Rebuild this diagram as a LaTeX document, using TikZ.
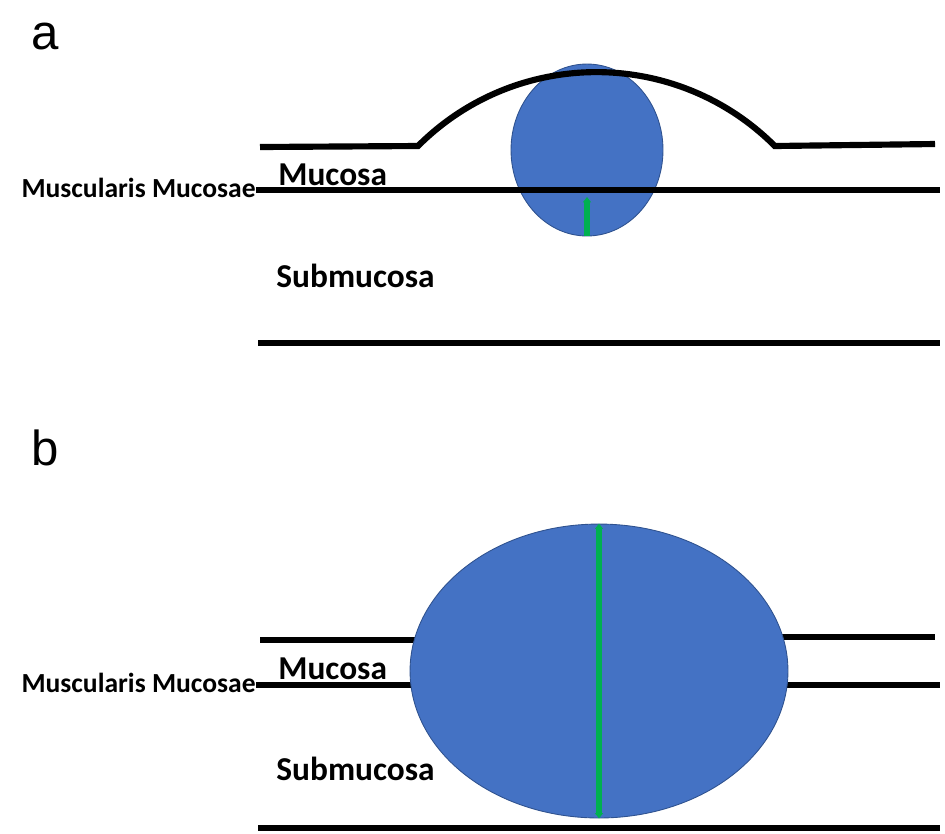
\documentclass[tikz,border=0pt]{standalone}
\usepackage{fontspec}
\usetikzlibrary{arrows.meta,positioning,shapes.geometric}
\newfontfamily\layerfont{Carlito}
\newfontfamily\panelfont{Liberation Sans}
\definecolor{polypblue}{RGB}{68,114,196}
\definecolor{polypedge}{RGB}{47,82,143}
\definecolor{depthgreen}{RGB}{0,176,80}

\begin{document}
\begin{tikzpicture}[x=0.02cm,y=-0.02cm,
      layer/.style={line width=3.5pt},
      polyp/.style={draw=polypedge,line width=0.5pt,fill=polypblue,ellipse,inner sep=0pt},
      depth/.style={draw=depthgreen,line width=3pt},
      lbl/.style={font=\layerfont\bfseries\fontsize{19}{19}\selectfont,inner sep=0pt},
      mmlbl/.style={font=\layerfont\bfseries\fontsize{15.7}{15.7}\selectfont,inner sep=0pt},
      panel/.style={font=\panelfont\fontsize{28}{28}\selectfont,inner sep=0pt}]
    \useasboundingbox (0,0) rectangle (945,833);
    % panel a
    \node[panel,anchor=base west] (pa) at (31,49) {a};
    \node[polyp,minimum width=3.04cm,minimum height=3.44cm] (pola) at (587,150) {};
    \coordinate (tipa) at (587,197);
    \draw[depth,-{Triangle[length=3pt,width=4.5pt]}] (pola.south) -- (tipa);
    \coordinate (a1) at (260,147);
    \coordinate (a2) at (418,146);
    \coordinate (a3) at (935,144);
    \draw[layer] (a1) -- (a2) arc[start angle=225,end angle=315,radius=252.3] -- (a3);
    \node[mmlbl,anchor=base east] (mma) at (256,197) {Muscularis Mucosae};
    \coordinate (mmaend) at (940,190);
    \draw[layer] (mma.east |- mmaend) -- (mmaend);
    \coordinate (basea0) at (258,343);
    \coordinate (basea1) at (940,343);
    \draw[layer] (basea0) -- (basea1);
    % layer labels a
    \node[lbl,anchor=base west] (muca) at (278,185) {Mucosa};
    \node[lbl,anchor=base west] (suba) at (276,287) {Submucosa};
    % panel b
    \node[panel,anchor=base west] (pb) at (31,465) {b};
    \coordinate (b1) at (260,640);
    \coordinate (b2) at (500,640);
    \coordinate (b3) at (700,637);
    \coordinate (b4) at (935,637);
    \draw[layer] (b1) -- (b2) (b3) -- (b4);
    \node[mmlbl,anchor=base east] (mmb) at (256,692) {Muscularis Mucosae};
    \coordinate (mmbmid) at (600,685);
    \coordinate (mmbend) at (940,685);
    \draw[layer] (mmb.east |- mmbmid) -- (mmbend);
    \coordinate (baseb0) at (258,828);
    \coordinate (baseb1) at (940,828);
    \draw[layer] (baseb0) -- (baseb1);
    \node[polyp,minimum width=7.56cm,minimum height=5.88cm] (polb) at (599,671) {};
    \draw[depth,{Triangle[length=3pt,width=4.5pt]}-{Triangle[length=3pt,width=4.5pt]}] (polb.south) -- (polb.north);
    % layer labels b
    \node[lbl,anchor=base west] (mucb) at (278,679) {Mucosa};
    \node[lbl,anchor=base west] (subb) at (276,780) {Submucosa};
\end{tikzpicture}
\end{document}
